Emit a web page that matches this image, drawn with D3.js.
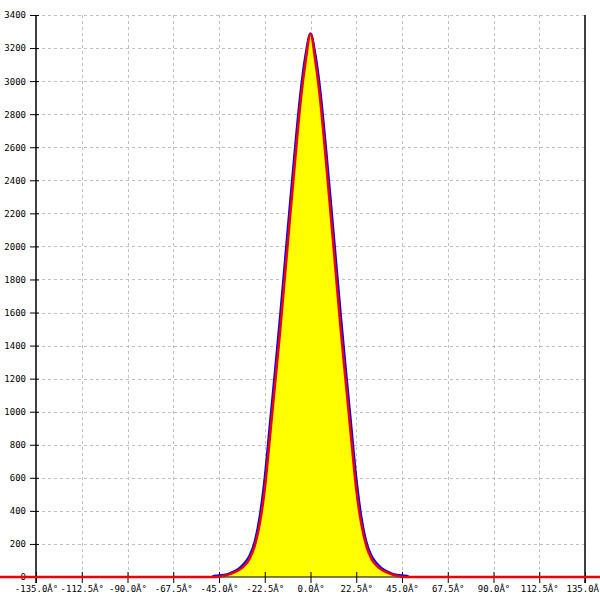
<!DOCTYPE html>
<html>
<head>
<meta charset="utf-8">
<script src="https://cdn.jsdelivr.net/npm/d3@7"></script>
<style>
  html, body { margin: 0; padding: 0; background: #fff; }
  svg { display: block; }
  text { font-family: "DejaVu Sans Mono", monospace; fill: #000; }
</style>
</head>
<body>
<svg id="chart" width="600" height="600"></svg>
<script>
// ---- data ----
const xTicks = [-135, -112.5, -90, -67.5, -45, -22.5, 0, 22.5, 45, 67.5, 90, 112.5, 135];
const xTickLabels = ["-135.0Â°", "-112.5Â°", "-90.0Â°", "-67.5Â°", "-45.0Â°", "-22.5Â°", "0.0Â°",
                     "22.5Â°", "45.0Â°", "67.5Â°", "90.0Â°", "112.5Â°", "135.0Â°"];
const yTicks = [0, 200, 400, 600, 800, 1000, 1200, 1400, 1600, 1800, 2000, 2200, 2400, 2600, 2800, 3000, 3200, 3400];

// histogram (blue) – angle in degrees, counts
const histAngles = [-48.5, -47.5, -45, -42.5, -40, -37.5, -35, -32.5, -30, -27.5, -25, -22.5, -20, -17.5, -15, -12.5, -10, -7.5, -5, -2.5,
                    0, 2.5, 5, 7.5, 10, 12.5, 15, 17.5, 20, 22.5, 25, 27.5, 30, 32.5, 35, 37.5, 40, 42.5, 45, 47.5, 48.5];
const histCounts = [0, 8, 10, 14, 22, 35, 55, 85, 130, 215, 370, 610, 930, 1250, 1580, 1930, 2280, 2620, 2930, 3160,
                    3290, 3160, 2930, 2620, 2280, 1930, 1580, 1250, 930, 610, 370, 215, 130, 85, 55, 35, 22, 14, 10, 8, 0];

// fit (red)
const fitAngles = [-160, -47.5, -45, -42.5, -40, -37.5, -35, -32.5, -30, -27.5, -25, -22.5, -20, -17.5, -15, -12.5, -10, -7.5, -5, -2.5,
                   0, 2.5, 5, 7.5, 10, 12.5, 15, 17.5, 20, 22.5, 25, 27.5, 30, 32.5, 35, 37.5, 40, 42.5, 45, 47.5, 150];
const fitValues = [0, 0, 2, 7, 16, 28, 44, 68, 110, 185, 320, 530, 840, 1160, 1480, 1830, 2185, 2530, 2860, 3110,
                   3285, 3110, 2860, 2530, 2185, 1830, 1480, 1160, 840, 530, 320, 185, 110, 68, 44, 28, 16, 7, 2, 0, 0];

// ---- chart ----
const svg = d3.select("#chart");
const x = d3.scaleLinear().domain([-135, 135]).range([36, 585]);
const y = d3.scaleLinear().domain([0, 3400]).range([577, 15]);

const hist = histAngles.map((a, i) => ({a, v: histCounts[i]}));
const fit = fitAngles.map((a, i) => ({a, v: fitValues[i]}));

// grid
const grid = svg.append("g").attr("stroke", "#c0c0c0").attr("stroke-width", 1).attr("stroke-dasharray", "3,3");
grid.selectAll("line.h").data(yTicks.filter(d => d > 0)).join("line")
  .attr("x1", x(-135)).attr("x2", x(135))
  .attr("y1", d => Math.round(y(d)) + 0.5).attr("y2", d => Math.round(y(d)) + 0.5);
grid.selectAll("line.v").data(xTicks.filter(d => d > -135 && d < 135)).join("line")
  .attr("x1", d => Math.round(x(d)) + 0.5).attr("x2", d => Math.round(x(d)) + 0.5)
  .attr("y1", y(3400)).attr("y2", y(0));

// yellow fill
svg.append("path").datum(fit.filter(d => d.a > -60 && d.a < 60))
  .attr("fill", "#ffff00")
  .attr("d", d3.area().x(d => x(d.a)).y0(y(0)).y1(d => y(d.v)).curve(d3.curveMonotoneX));

// axes
const xAxis = d3.axisBottom(x).tickValues(xTicks).tickFormat((d, i) => xTickLabels[i]).tickSize(6).tickSizeOuter(0);
const gx = svg.append("g").attr("transform", `translate(0,${y(0)})`).call(xAxis);
gx.select(".domain").remove();
gx.selectAll(".tick line").attr("stroke", "#000").attr("y1", -5).attr("y2", 6);
gx.selectAll(".tick text").attr("y", 9).attr("font-size", 9).attr("font-family", "DejaVu Sans Mono");

const yAxis = d3.axisLeft(y).tickValues(yTicks).tickFormat(d3.format("d")).tickSize(6).tickSizeOuter(0);
const gy = svg.append("g").attr("transform", `translate(${x(-135)},0)`).call(yAxis);
gy.select(".domain").remove();
gy.selectAll(".tick line").attr("stroke", "#000").attr("x1", -6).attr("x2", 3);
gy.selectAll(".tick text").attr("x", -10).attr("font-size", 9).attr("font-family", "DejaVu Sans Mono");

svg.append("line").attr("x1", x(-135)).attr("x2", x(-135)).attr("y1", y(3400)).attr("y2", y(0) + 6)
  .attr("stroke", "#000").attr("stroke-width", 1.5);
svg.append("line").attr("x1", x(135)).attr("x2", x(135)).attr("y1", y(3400)).attr("y2", y(0) + 6)
  .attr("stroke", "#000").attr("stroke-width", 1.5);
svg.append("line").attr("x1", x(-135)).attr("x2", x(135)).attr("y1", y(0)).attr("y2", y(0))
  .attr("stroke", "#000").attr("stroke-width", 1);

// blue histogram line
svg.append("path").datum(hist)
  .attr("fill", "none").attr("stroke", "#0000ff").attr("stroke-width", 2)
  .attr("d", d3.line().x(d => x(d.a)).y(d => y(d.v)).curve(d3.curveMonotoneX));

// red fit line
svg.append("path").datum(fit)
  .attr("fill", "none").attr("stroke", "#ee0000").attr("stroke-width", 2.5)
  .attr("d", d3.line().x(d => x(d.a)).y(d => y(d.v)).curve(d3.curveMonotoneX));
</script>
</body>
</html>
